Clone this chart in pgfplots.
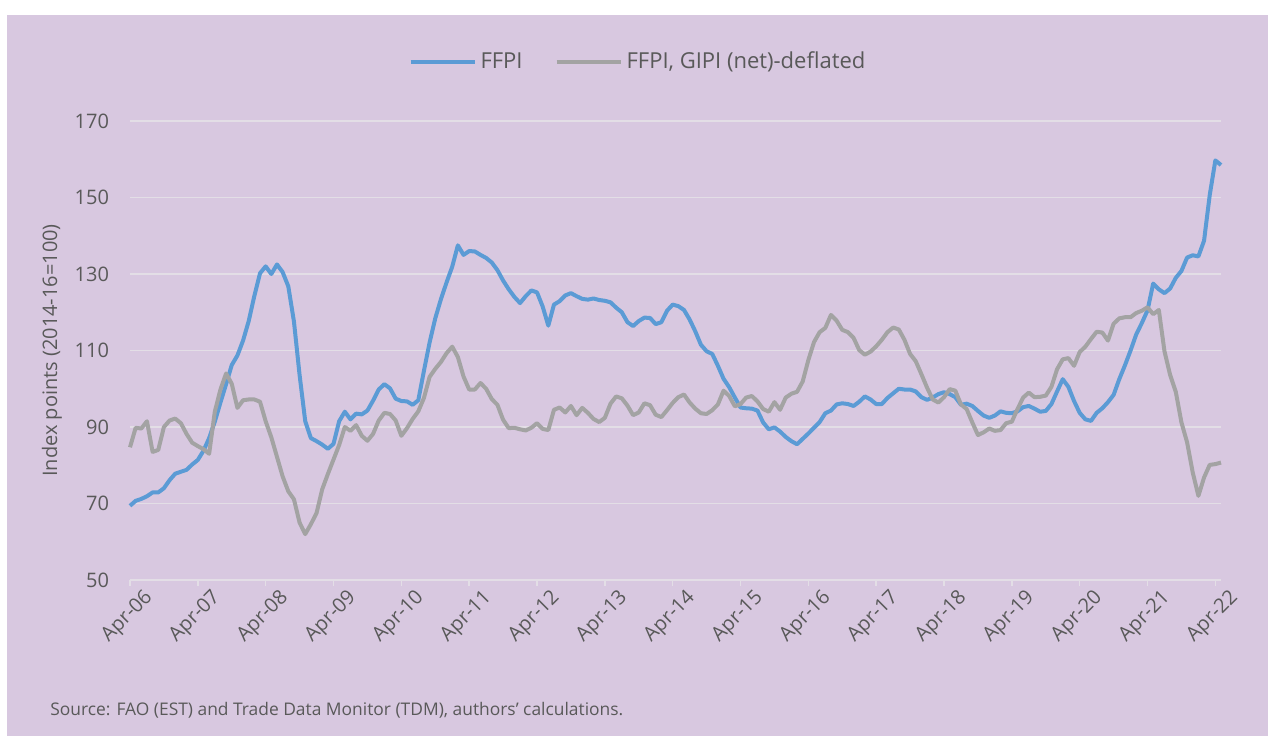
\documentclass[border=0pt]{standalone}
\usepackage{pgfplots}
\usepackage{pgfplotstable}
\pgfplotsset{compat=1.18}
\usepackage{fontspec}
\setmainfont{Open Sans}

\definecolor{panel}{HTML}{D8C8E0}
\definecolor{gridc}{HTML}{E3DEE6}
\definecolor{ffpi}{HTML}{5B9BD5}
\definecolor{defl}{HTML}{A3A3A3}
\definecolor{txt}{HTML}{595959}

% month index (0 = Apr-06), FFPI, FFPI deflated by GIPI (net)
\pgfplotstableread{
i ffpi defl
0 69.4 84.7
1 70.7 89.8
2 71.2 89.6
3 71.9 91.5
4 72.9 83.5
5 72.9 84.0
6 74.0 90.0
7 76.1 91.7
8 77.8 92.2
9 78.3 91.0
10 78.8 88.2
11 80.2 85.9
12 81.4 85.0
13 83.8 84.2
14 87.1 83.0
15 91.4 94.0
16 96.4 99.8
17 101.2 104.0
18 106.2 101.3
19 108.7 95.0
20 112.6 97.0
21 117.7 97.2
22 124.3 97.2
23 130.2 96.6
24 132.0 91.5
25 130.0 87.3
26 132.5 82.2
27 130.5 77.1
28 126.8 73.2
29 117.6 71.1
30 103.6 65.0
31 91.5 62.0
32 87.1 64.6
33 86.3 67.5
34 85.4 73.7
35 84.3 77.7
36 85.6 81.5
37 91.5 85.3
38 94.0 90.0
39 92.0 89.0
40 93.5 90.5
41 93.3 87.7
42 94.3 86.4
43 96.9 88.2
44 99.8 91.7
45 101.2 93.7
46 100.1 93.4
47 97.4 91.7
48 96.8 87.7
49 96.7 89.7
50 95.8 92.1
51 97.0 94.1
52 104.7 97.6
53 112.1 103.1
54 118.4 105.2
55 123.4 107.0
56 127.8 109.3
57 131.9 111.0
58 137.5 108.3
59 135.0 103.2
60 136.0 99.8
61 135.9 99.8
62 135.0 101.5
63 134.2 100.0
64 133.0 97.3
65 131.0 95.8
66 128.3 91.9
67 126.0 89.7
68 124.0 89.8
69 122.4 89.4
70 124.2 89.1
71 125.7 89.8
72 125.2 91.0
73 121.5 89.5
74 116.5 89.2
75 122.0 94.5
76 122.9 95.1
77 124.4 93.8
78 125.0 95.5
79 124.2 93.1
80 123.5 95.0
81 123.3 93.7
82 123.6 92.1
83 123.2 91.3
84 123.0 92.4
85 122.6 96.1
86 121.2 98.0
87 120.0 97.5
88 117.4 95.6
89 116.4 93.1
90 117.7 93.8
91 118.6 96.2
92 118.5 95.7
93 116.9 93.2
94 117.4 92.6
95 120.4 94.4
96 122.0 96.3
97 121.6 97.8
98 120.6 98.5
99 118.1 96.4
100 115.0 94.8
101 111.5 93.6
102 109.8 93.4
103 109.1 94.4
104 106.0 95.9
105 102.6 99.5
106 100.4 98.1
107 97.7 95.4
108 95.1 96.0
109 94.9 97.7
110 94.8 98.1
111 94.3 96.7
112 91.2 94.7
113 89.4 94.0
114 89.9 96.5
115 88.8 94.5
116 87.4 97.7
117 86.3 98.7
118 85.5 99.2
119 86.9 101.9
120 88.3 107.5
121 89.8 112.2
122 91.3 114.8
123 93.6 115.9
124 94.3 119.3
125 95.9 117.8
126 96.2 115.4
127 96.0 114.8
128 95.5 113.3
129 96.6 110.1
130 98.0 108.9
131 97.2 109.7
132 96.0 111.1
133 96.0 112.8
134 97.6 114.8
135 98.8 116.0
136 100.0 115.5
137 99.8 112.8
138 99.8 109.1
139 99.3 107.2
140 97.8 103.8
141 97.1 100.3
142 97.7 97.2
143 98.6 96.4
144 99.1 97.8
145 98.6 99.9
146 97.8 99.5
147 95.8 95.9
148 96.1 94.7
149 95.5 91.2
150 94.2 87.9
151 93.0 88.6
152 92.4 89.6
153 93.0 89.0
154 94.1 89.2
155 93.7 91.0
156 93.6 91.4
157 94.1 94.7
158 95.2 97.7
159 95.5 99.0
160 94.8 97.8
161 94.0 97.9
162 94.2 98.2
163 96.0 100.5
164 99.3 105.1
165 102.5 107.7
166 100.5 108.0
167 96.8 106.0
168 93.7 109.6
169 92.0 111.0
170 91.6 113.0
171 93.7 114.9
172 94.9 114.7
173 96.5 112.6
174 98.4 117.0
175 102.5 118.4
176 106.1 118.7
177 110.0 118.7
178 114.2 119.8
179 117.2 120.4
180 120.5 121.3
181 127.5 119.5
182 126.0 120.6
183 125.0 109.8
184 126.2 103.6
185 129.0 99.2
186 130.8 91.2
187 134.3 86.0
188 134.9 78.1
189 134.6 72.0
190 138.7 76.8
191 150.6 80.1
192 159.7 80.3
193 158.5 80.7
}\data

\begin{document}
\begin{tikzpicture}
% white page and lavender panel (1 px = 0.5 pt)
\fill[white] (0,0) rectangle (634pt,368pt);
\fill[panel] (3.5pt,0) rectangle (634pt,360.5pt);

\begin{axis}[
    at={(65pt,78pt)}, anchor=south west,
    scale only axis,
    width=545.5pt, height=229.5pt,
    xmin=0, xmax=193,
    ymin=50, ymax=170,
    xtick={0,12,...,192},
    xticklabels={Apr-06,Apr-07,Apr-08,Apr-09,Apr-10,Apr-11,Apr-12,Apr-13,Apr-14,Apr-15,Apr-16,Apr-17,Apr-18,Apr-19,Apr-20,Apr-21,Apr-22},
    ytick={50,70,...,170},
    /pgf/number format/assume math mode=true,
    axis x line*=bottom,
    axis y line*=left,
    x axis line style={gridc, line width=0.8pt},
    y axis line style={draw=none},
    ymajorgrids,
    grid style={gridc, line width=0.8pt},
    xtick style={gridc, line width=0.8pt},
    ytick style={draw=none},
    tick align=outside,
    major tick length=3pt,
    ticklabel style={font=\fontsize{10}{11}\selectfont, text=txt},
    xticklabel style={rotate=45, anchor=north east, inner sep=0pt, xshift=4pt, yshift=-5pt},
    yticklabel style={xshift=-4pt},
    ylabel={Index points (2014-16=100)},
    ylabel style={at={(axis description cs:-0.0715,0.5)}, anchor=center, font=\fontsize{10}{12}\selectfont, text=txt},
    legend style={at={(0.4665,1.1285)}, anchor=center, draw=none, fill=none,
        font=\fontsize{11}{13}\selectfont, text=txt, legend columns=2,
        /tikz/every even column/.append style={column sep=14pt}},
    legend image code/.code={\draw[#1] (0pt,0pt) -- (32pt,0pt);},
    clip=false,
]
\addplot[ffpi, line width=2pt, line join=round] table[x=i, y=ffpi] {\data};
\addlegendentry{FFPI}
\addplot[defl, line width=2pt, line join=round] table[x=i, y=defl] {\data};
\addlegendentry{FFPI, GIPI (net)-deflated}
\end{axis}

\node[anchor=west, inner sep=0pt, text=txt, font=\fontsize{8.7}{10}\selectfont] at (25pt,13pt)
    {Source: FAO (EST) and Trade Data Monitor (TDM), authors’ calculations.};

\pgfresetboundingbox
\path[use as bounding box] (0,0) rectangle (634pt,368pt);
\end{tikzpicture}
\end{document}
